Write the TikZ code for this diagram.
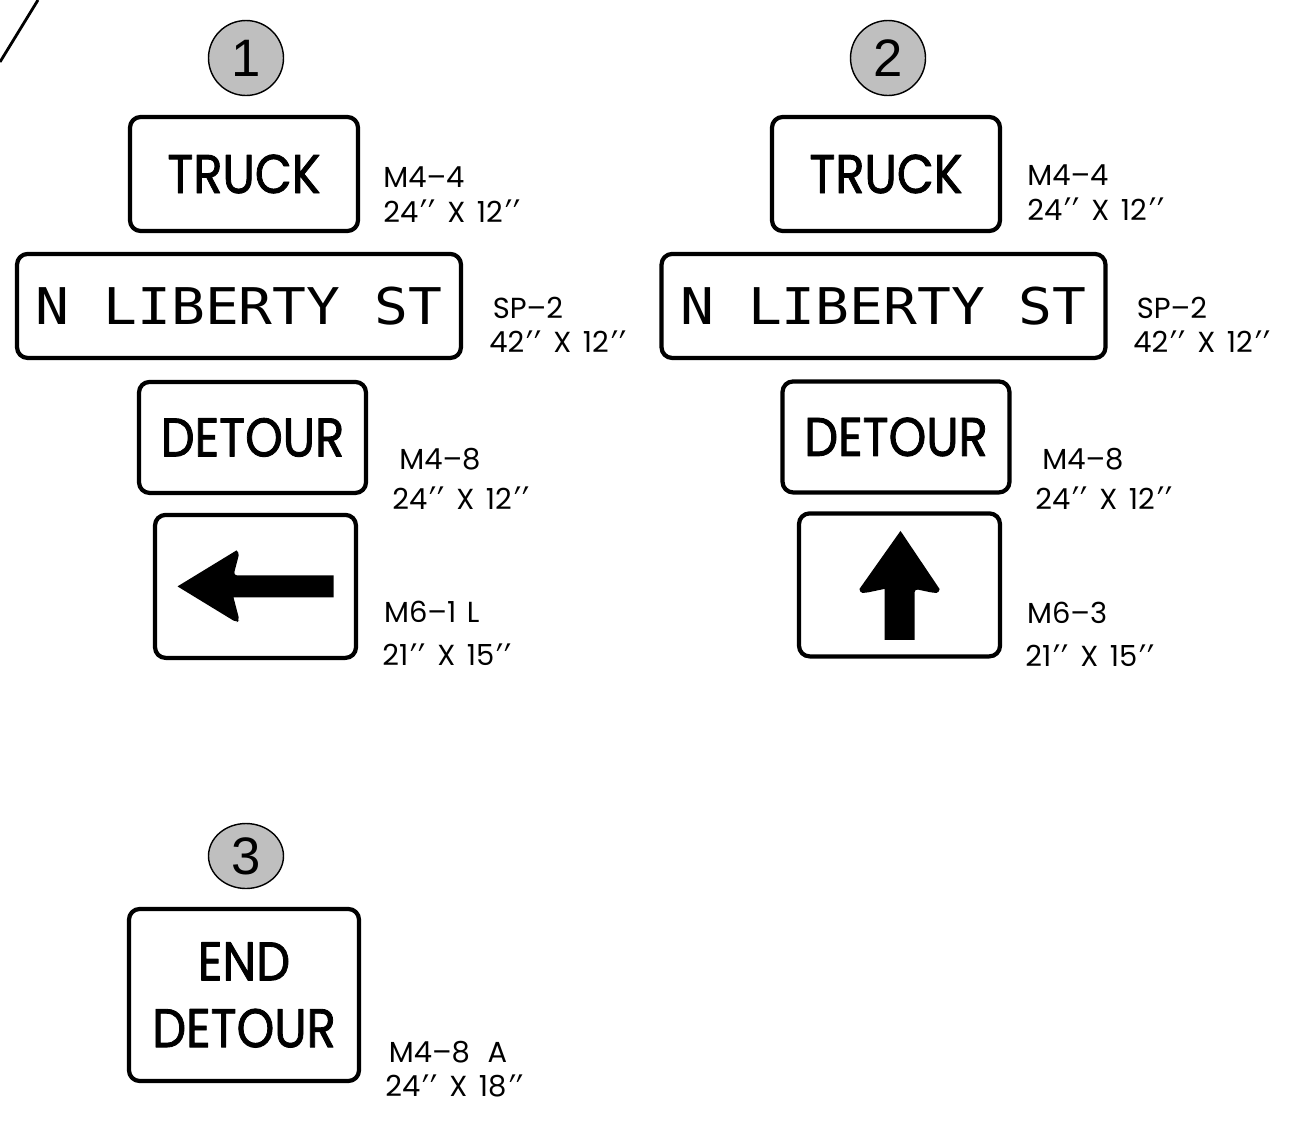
\documentclass[tikz,border=0pt]{standalone}
\usepackage{fontspec}
\setmainfont{Poppins}
\newfontfamily\signfont{Poppins}[FakeBold=1.6]
\newfontfamily\numfont{Liberation Sans}
\newfontfamily\streetfont{DejaVu Sans Mono}
\newfontfamily\primefont{DejaVu Sans}
\usetikzlibrary{positioning,shapes.geometric}
\newcommand{\inch}{{\primefont\kern1.5pt\raisebox{-0.3em}{\scalebox{1.1}[1.45]{′\kern0.3pt′}}}}
\newcommand{\by}{\hspace{6.5pt}X\hspace{6.5pt}}
\newcommand{\signword}[1]{\scalebox{0.88}[1]{#1}}

\begin{document}
\begin{tikzpicture}[x=0.02cm,y=-0.02cm,line join=round,
  num/.style={draw,circle,fill=black!25,line width=0.8pt,minimum size=1.5cm,inner sep=0pt,font=\numfont\fontsize{30}{30}\selectfont},
  sign/.style={draw,rectangle,rounded corners=6pt,line width=2.4pt,inner sep=0pt,font=\signfont\fontsize{31}{40}\selectfont},
  size/.style={anchor=west,align=left,inner sep=0pt,font=\fontsize{16.5}{19.5}\selectfont}]
  \useasboundingbox (0,0) rectangle (1308,1120);
  \draw[line width=1.6pt] (0,62) -- (38,0);

  % group 1
  \node[num] (1) at (246,58) {1};
  \node[sign,minimum width=4.56cm,minimum height=2.28cm,node distance=2.32cm] (truck1) [below of=1,xshift=-0.04cm] {\signword{TRUCK}};
  \node[sign,minimum width=8.88cm,minimum height=2.08cm,node distance=2.64cm,font=\streetfont\fontsize{32}{32}\selectfont] (street1) [below of=truck1,xshift=-0.1cm] {\scalebox{1}[0.9]{N LIBERTY ST}};
  \node[sign,minimum width=4.54cm,minimum height=2.22cm,node distance=2.63cm] (detour1) [below of=street1,xshift=0.27cm] {\signword{DETOUR}};
  \node[sign,minimum width=4.02cm,minimum height=2.86cm,node distance=2.98cm] (arrow1) [below of=detour1,xshift=0.06cm] {};
  \fill[shift={(arrow1)}] (-78,0) -- (-19,-36) [rounded corners=2pt] -- (-16,-34) -- (-22,-11) [sharp corners] -- (78,-11) -- (78,11) -- (-22,11) [rounded corners=2pt] -- (-16,34) -- (-19,36) [sharp corners] -- cycle;

  \node[size] (lab11) at (383,199) {M4--4\\24\inch\by12\inch};
  \node[size] (lab12) at (489,329) {\hspace*{2pt}SP--2\\42\inch\by12\inch};
  \node[size] (lab13) at (392,483) {\hspace*{4pt}M4--8\\[3pt]24\inch\by12\inch};
  \node[size] (lab14) at (382,638) {\hspace*{1pt}M6--1\hspace{6pt}L\\[5pt]21\inch\by15\inch};

  % group 2
  \node[num] (2) at (888,58) {2};
  \node[sign,minimum width=4.56cm,minimum height=2.28cm,node distance=2.32cm] (truck2) [below of=2,xshift=-0.04cm] {\signword{TRUCK}};
  \node[sign,minimum width=8.88cm,minimum height=2.08cm,node distance=2.64cm,font=\streetfont\fontsize{32}{32}\selectfont] (street2) [below of=truck2,xshift=-0.05cm] {\scalebox{1}[0.9]{N LIBERTY ST}};
  \node[sign,minimum width=4.54cm,minimum height=2.22cm,node distance=2.62cm] (detour2) [below of=street2,xshift=0.25cm] {\signword{DETOUR}};
  \node[sign,minimum width=4.02cm,minimum height=2.86cm,node distance=2.96cm] (arrow2) [below of=detour2,xshift=0.07cm] {};
  \fill[shift={(arrow2)}] (1,-54) -- (40,4) [rounded corners=2pt] -- (40,8) -- (34,8) -- (15,4) [sharp corners] -- (15,55) -- (-15,55) -- (-15,4) [rounded corners=2pt] -- (-34,8) -- (-40,8) [sharp corners] -- (-40,4) -- cycle;

  \node[size] (lab21) at (1027,197) {M4--4\\24\inch\by12\inch};
  \node[size] (lab22) at (1133,329) {\hspace*{2pt}SP--2\\42\inch\by12\inch};
  \node[size] (lab23) at (1035,483) {\hspace*{4pt}M4--8\\[3pt]24\inch\by12\inch};
  \node[size] (lab24) at (1025,639) {\hspace*{1pt}M6--3\\[5pt]21\inch\by15\inch};

  % group 3
  \node[num,ellipse,minimum width=1.5cm,minimum height=1.3cm] (3) at (246,856) {3};
  \node[sign,minimum width=4.6cm,minimum height=3.44cm,node distance=2.78cm,align=center,font=\signfont\fontsize{31}{34}\selectfont] (end3) [below of=3,xshift=-0.04cm] {\signword{END}\\[4pt]\signword{DETOUR}};
  \node[size] (lab31) at (385,1073) {\hspace*{2pt}M4--8\hspace{10pt}A\\24\inch\by18\inch};
\end{tikzpicture}
\end{document}
